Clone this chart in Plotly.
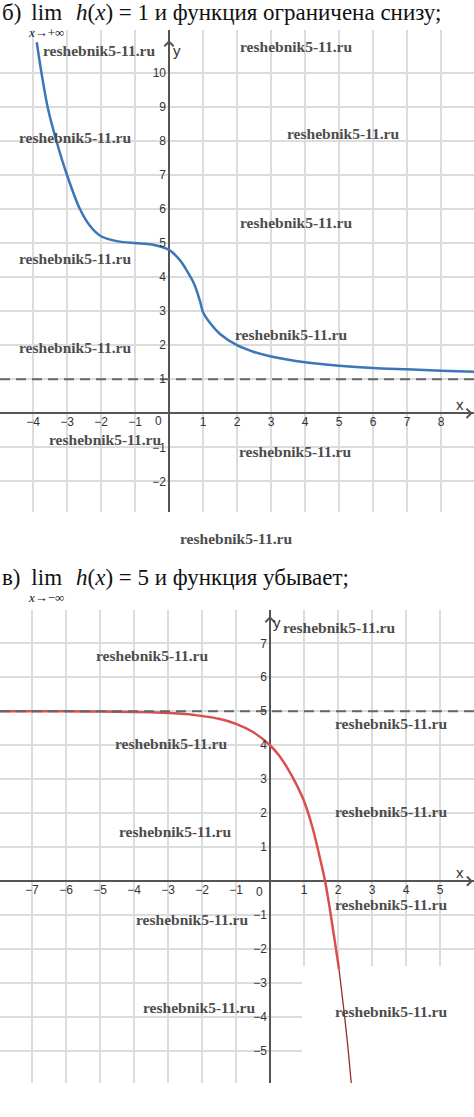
import plotly.graph_objects as go

W, H = 474, 1117

# ---------------- data ----------------
# chart б): h(x) -> 1 as x -> +inf, bounded below
top_x = [-3.89, -3.75, -3.57, -3.31, -3.0, -2.62, -2.32, -2.0, -1.5, -1.0, -0.5,
         0.0, 0.32, 0.52, 0.74, 0.91, 1.0, 1.25, 1.5, 2.0, 2.5, 3.0, 4.0, 5.0,
         6.0, 7.0, 8.0, 8.97]
top_y = [10.9, 10.0, 9.0, 8.0, 7.0, 6.0, 5.5, 5.2, 5.05, 5.0, 4.96,
         4.8, 4.5, 4.2, 3.8, 3.3, 2.97, 2.6, 2.33, 2.0, 1.8, 1.67, 1.5, 1.4,
         1.33, 1.29, 1.25, 1.22]
top_asym_x = [-4.97, 8.97]
top_asym_y = [1, 1]
top_xticks = [-4, -3, -2, -1, 1, 2, 3, 4, 5, 6, 7, 8]
top_yticks = [-2, -1, 1, 2, 3, 4, 5, 6, 7, 8, 9, 10]

# chart в): h(x) -> 5 as x -> -inf, decreasing
bot_x = [-7.94, -7.0, -6.0, -5.0, -4.0, -3.0, -2.5, -2.0, -1.5, -1.0, -0.5,
         0.0, 0.25, 0.5, 0.75, 1.0, 1.25, 1.5, 1.62, 1.75, 2.0, 2.03]
bot_y = [5.0, 5.0, 5.0, 4.99, 4.98, 4.95, 4.92, 4.86, 4.78, 4.63, 4.39,
         4.0, 3.72, 3.35, 2.9, 2.36, 1.58, 0.55, 0.0, -0.75, -2.39, -2.6]
bot_tail_x = [2.03, 2.1, 2.2, 2.3, 2.39]
bot_tail_y = [-2.6, -3.17, -4.03, -4.97, -5.94]
bot_asym_x = [-7.94, 6.0]
bot_asym_y = [5, 5]
bot_xticks = [-7, -6, -5, -4, -3, -2, -1, 1, 2, 3, 4, 5]
bot_yticks = [-5, -4, -3, -2, -1, 1, 2, 3, 4, 5, 6, 7]

WATERMARK = "reshebnik5-11.ru"
wm_top = [(99, 51), (296, 47), (75, 138), (343, 134), (296, 222), (75, 258),
          (291, 334), (75, 347), (105, 439), (295, 451), (236, 538)]
wm_bot = [(339, 627), (152, 655), (391, 723), (171, 743), (391, 811), (175, 831),
          (391, 904), (192, 919), (199, 1007), (391, 1011)]

# ---------------- figure ----------------
BLUE = "#3b76b6"
RED = "#d65050"
GRID = "#dcdcdc"
AXIS = "#555555"
TICKFONT = dict(family="Liberation Sans, Arial, sans-serif", size=12, color="#333333")

def px2py(py):
    return 1 - py / H

fig = go.Figure()

fig.add_trace(go.Scatter(x=top_x, y=top_y, mode="lines", xaxis="x", yaxis="y",
                         line=dict(color=BLUE, width=2.5, shape="spline", smoothing=0.7),
                         hoverinfo="skip"))
fig.add_trace(go.Scatter(x=top_asym_x, y=top_asym_y, mode="lines", xaxis="x", yaxis="y",
                         line=dict(color="#666666", width=2, dash="10px,6px"),
                         hoverinfo="skip"))

fig.add_trace(go.Scatter(x=bot_x, y=bot_y, mode="lines", xaxis="x2", yaxis="y2",
                         line=dict(color=RED, width=2.5, shape="spline", smoothing=0.7),
                         hoverinfo="skip"))
fig.add_trace(go.Scatter(x=bot_tail_x, y=bot_tail_y, mode="lines", xaxis="x2", yaxis="y2",
                         line=dict(color="#9a2a2a", width=1.3, shape="spline", smoothing=0.6),
                         hoverinfo="skip"))
fig.add_trace(go.Scatter(x=bot_asym_x, y=bot_asym_y, mode="lines", xaxis="x2", yaxis="y2",
                         line=dict(color="#666666", width=2, dash="10px,6px"),
                         hoverinfo="skip"))

# geometry of the two panels (pixels)
top_py = (30, 512)
bot_py = (610, 1083)
top_x0px, bot_x0px = 169, 270
top_y0py, bot_y0py = 413.3, 881.2

common_axis = dict(showgrid=True, gridcolor=GRID, gridwidth=2, zeroline=True,
                   zerolinecolor=AXIS, zerolinewidth=2, showline=False, ticks="",
                   tickfont=TICKFONT, fixedrange=True)

fig.update_layout(
    width=W, height=H, margin=dict(l=0, r=0, t=0, b=0),
    paper_bgcolor="white", plot_bgcolor="white", showlegend=False,
    xaxis=dict(domain=[0, 1], range=[-4.97, 8.97], tickvals=top_xticks,
               anchor="free", position=px2py(top_y0py), **common_axis),
    yaxis=dict(domain=[px2py(top_py[1]), px2py(top_py[0])], range=[-2.90, 11.26],
               tickvals=top_yticks, anchor="free", position=top_x0px / W,
               ticklabelstandoff=3, **common_axis),
    xaxis2=dict(domain=[0, 1], range=[-7.94, 6.0], tickvals=bot_xticks,
                anchor="free", position=px2py(bot_y0py), **common_axis),
    yaxis2=dict(domain=[px2py(bot_py[1]), px2py(bot_py[0])], range=[-5.94, 7.98],
                tickvals=bot_yticks, anchor="free", position=bot_x0px / W,
                ticklabelstandoff=3, **common_axis),
)

# white patch in lower-right of second chart (as in the source image)
fig.add_shape(type="rect", xref="x2", yref="y2", x0=0.94, x1=6.0, y0=-5.94, y1=-2.5,
              fillcolor="white", line=dict(width=0), layer="between")

ann = []
# origin labels
ann.append(dict(x=-0.32, y=-0.23, xref="x", yref="y", text="0", showarrow=False, font=TICKFONT,
                xanchor="center", yanchor="middle"))
ann.append(dict(x=-0.3, y=-0.32, xref="x2", yref="y2", text="0", showarrow=False, font=TICKFONT,
                xanchor="center", yanchor="middle"))

# axis arrows and names
AXLAB = dict(family="Liberation Sans, Arial, sans-serif", size=15, color="#333333")
for xr, yr, ytip, xtip in (("x", "y", 10.96, 8.93), ("x2", "y2", 7.8, 5.97)):
    ann.append(dict(x=0, y=ytip, xref=xr, yref=yr, ax=0, ay=12, text="", showarrow=True,
                    arrowhead=4, arrowsize=1.2, arrowwidth=1.5, arrowcolor=AXIS))
    ann.append(dict(x=xtip, y=0, xref=xr, yref=yr, ax=-12, ay=0, text="", showarrow=True,
                    arrowhead=4, arrowsize=1.2, arrowwidth=1.5, arrowcolor=AXIS))
for lx, ly, t in ((177, 51, "y"), (460, 404, "x"), (277, 622, "y"), (460, 872, "x")):
    ann.append(dict(x=lx / W, y=px2py(ly), xref="paper", yref="paper", text=t, showarrow=False,
                    font=AXLAB, xanchor="center", yanchor="middle"))

# headings
HF = dict(family="Liberation Serif, Times New Roman, serif", size=23, color="#111111")
LF = dict(family="Liberation Serif, Times New Roman, serif", size=13, color="#111111")
for py, label, sub, rest in (
        (12, "б)", "<i>x</i>→+∞", "<i>h</i>(<i>x</i>) = 1 и функция ограничена снизу;"),
        (577, "в)", "<i>x</i>→−∞", "<i>h</i>(<i>x</i>) = 5 и функция убывает;")):
    ann.append(dict(x=0, y=px2py(py), xref="paper", yref="paper", xanchor="left", yanchor="middle",
                    text=label, showarrow=False, font=HF))
    ann.append(dict(x=46 / W, y=px2py(py - 14), xref="paper", yref="paper", xanchor="center", yanchor="top",
                    text="<span style='font-size:23px'>lim</span><br><span style='font-size:13px'>" + sub + "</span>",
                    showarrow=False, font=LF))
    ann.append(dict(x=74 / W, y=px2py(py), xref="paper", yref="paper", xanchor="left", yanchor="middle",
                    text=rest, showarrow=False, font=HF))

# watermarks
WF = dict(family="Liberation Serif, Times New Roman, serif", size=15.5, color="#4d4d4d")
for (wx, wy) in wm_top + wm_bot:
    ann.append(dict(x=wx / W, y=px2py(wy), xref="paper", yref="paper", text="<b>" + WATERMARK + "</b>",
                    showarrow=False, font=WF, xanchor="center", yanchor="middle"))

fig.update_layout(annotations=ann)
fig.write_html("out.html", config={"displayModeBar": False},
               post_script="document.body.style.margin='0';document.body.style.padding='0';")
